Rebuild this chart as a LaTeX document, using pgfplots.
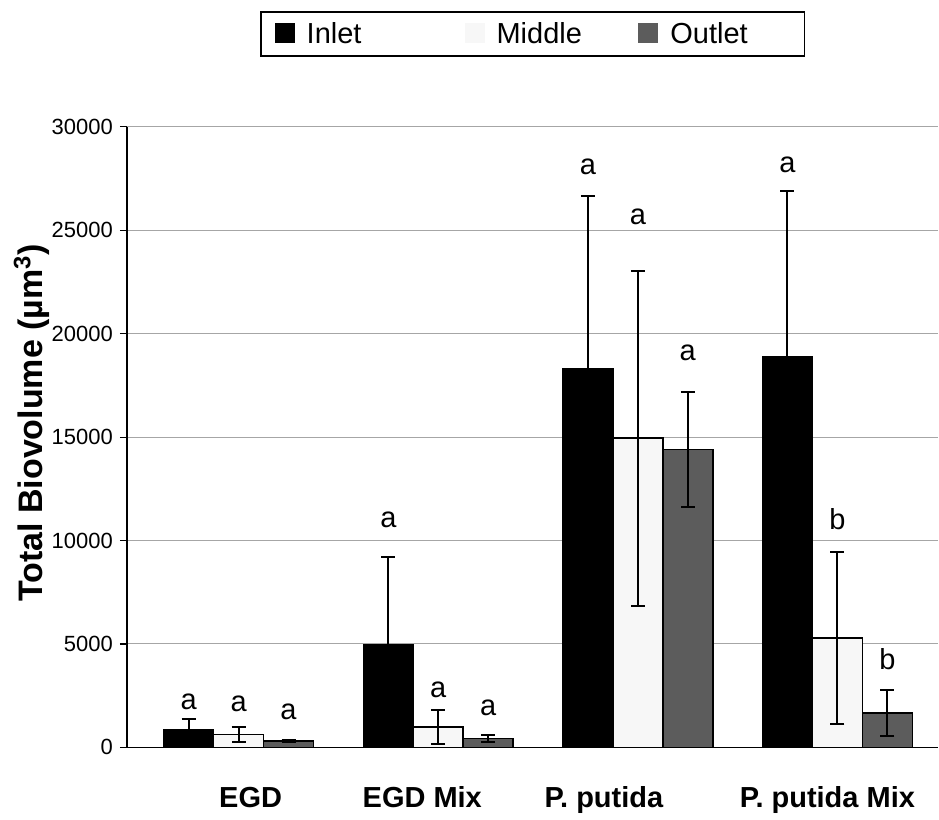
\documentclass[border=0pt]{standalone}
\usepackage{pgfplots}
\pgfplotsset{compat=1.18}
\usepackage{pgfplotstable}
\usepackage{fontspec}
\setmainfont{Liberation Sans}

\pgfplotstableread{
x y e
0 870 480
1 4970 4250
2 18300 8350
3 18900 8000
}\inlet
\pgfplotstableread{
x y e
0 630 360
1 970 820
2 14950 8100
3 5300 4150
}\middle
\pgfplotstableread{
x y e
0 300 60
1 430 150
2 14400 2800
3 1650 1100
}\outlet

\begin{document}
\begin{tikzpicture}
\begin{axis}[
  scale only axis, width=406pt, height=310.5pt,
  xmin=-0.56, xmax=3.505, ymin=0, ymax=30000,
  clip=false,
  ybar=0pt, bar width=25pt,
  axis x line*=bottom, axis y line*=left,
  axis line style={line width=0.8pt, -},
  ytick={0,5000,...,30000},
  scaled y ticks=false,
  ymajorgrids, grid style={gray!70, line width=0.5pt},
  yticklabel style={font=\fontsize{11}{13}\selectfont},
  /pgf/number format/1000 sep={}, /pgf/number format/assume math mode=true,
  tick align=outside, major tick length=3.5pt,
  tick style={black, line width=0.6pt},
  xtick={0.06,0.92,1.83,2.95},
  xticklabels={EGD, EGD Mix, P. putida, P. putida Mix},
  xtick style={draw=none},
  xticklabel style={font=\bfseries\fontsize{14.5}{16}\selectfont, anchor=base, yshift=-26.5pt},
  ylabel={Total Biovolume (µm\textsuperscript{3})},
  ylabel style={font=\bfseries\fontsize{17}{20}\selectfont, at={(axis description cs:-0.117,0.523)}, anchor=center},
  legend columns=3,
  legend style={at={(0.5,1)}, anchor=south, yshift=35pt, draw=black, line width=0.8pt,
    font=\fontsize{14.5}{16}\selectfont, inner xsep=7pt, inner ysep=3pt,
    /tikz/every odd column/.append style={column sep=4pt},
    /tikz/every even column/.append style={column sep=3pt}},
  legend image code/.code={\path[#1, draw=none] (0pt,-4.5pt) rectangle (10pt,5.5pt);},
  error bars/error bar style={line width=1pt, black},
  error bars/error mark options={rotate=90, mark size=3.5pt, line width=1pt, black},
]
\addplot[fill=black, draw=black, line width=0.8pt,
  error bars/.cd, y dir=both, y explicit]
  table[x=x, y=y, y error=e]{\inlet};
\addlegendentry{\makebox[74pt][l]{Inlet}}
\addplot[fill=gray!6, draw=black, line width=0.8pt,
  error bars/.cd, y dir=both, y explicit]
  table[x=x, y=y, y error=e]{\middle};
\addlegendentry{\makebox[66pt][l]{Middle}}
\addplot[fill=black!64, draw=black, line width=0.8pt,
  error bars/.cd, y dir=both, y explicit]
  table[x=x, y=y, y error=e]{\outlet};
\addlegendentry{\makebox[58pt][l]{Outlet}}

\begin{scope}[every node/.style={font=\fontsize{14.5}{16}\selectfont}]
\node at (axis cs:-0.25,2220) {a};
\node at (axis cs:0,2080) {a};
\node at (axis cs:0.25,1740) {a};
\node at (axis cs:0.75,11010) {a};
\node at (axis cs:1,2800) {a};
\node at (axis cs:1.25,1930) {a};
\node at (axis cs:1.75,28060) {a};
\node at (axis cs:2,25650) {a};
\node at (axis cs:2.25,19080) {a};
\node at (axis cs:2.75,28160) {a};
\node at (axis cs:3,11010) {b};
\node at (axis cs:3.25,4250) {b};
\end{scope}
\path (rel axis cs:-0.1564,-0.1095) rectangle (rel axis cs:1,1.2045);
\end{axis}
\end{tikzpicture}
\end{document}
